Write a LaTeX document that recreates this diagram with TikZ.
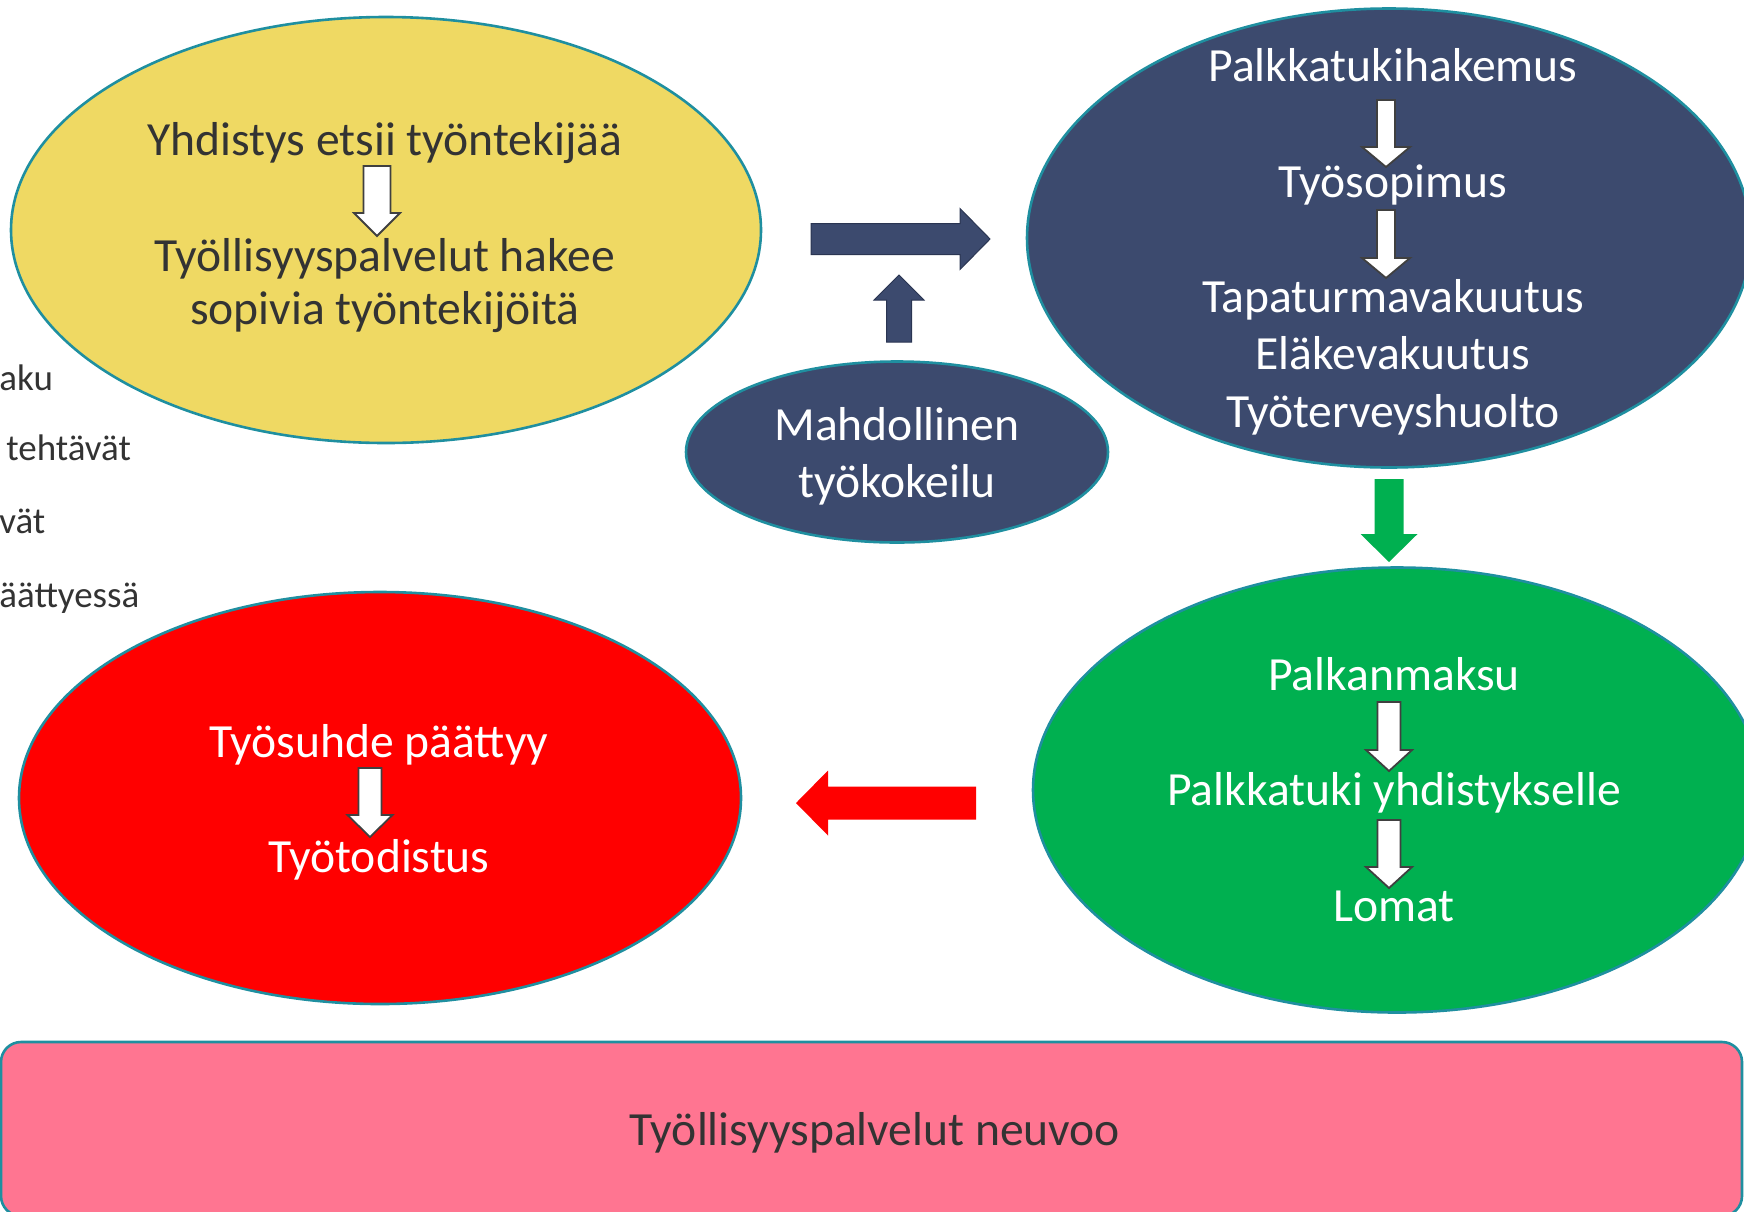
\documentclass[tikz,border=0pt]{standalone}
\usepackage{fontspec}
\setmainfont{Carlito}
\usetikzlibrary{shapes.geometric,calc}
\definecolor{bubbleyellow}{HTML}{EFD963}
\definecolor{navy}{HTML}{3C4A6E}
\definecolor{navyedge}{HTML}{2A3552}
\definecolor{leafgreen}{HTML}{00B050}
\definecolor{alarmred}{HTML}{FF0000}
\definecolor{advicepink}{HTML}{FF7591}
\definecolor{edgeteal}{HTML}{1F8FA0}
\definecolor{inkgray}{HTML}{333333}
\definecolor{arrowedge}{HTML}{404040}
% block arrow: [style]{tail}{tip}{shaft half}{head half}{head length}
\newcommand{\blockarrow}[6][]{%
  \coordinate (hb) at ($(#3)!#6!(#2)$);
  \path[#1] ($(#2)!#4!90:(#3)$) -- ($(hb)!#4!-90:(#2)$) -- ($(hb)!#5!-90:(#2)$)
    -- (#3) -- ($(hb)!#5!90:(#2)$) -- ($(hb)!#4!90:(#2)$) -- ($(#2)!#4!-90:(#3)$) -- cycle;}

\begin{document}
\begin{tikzpicture}[x=0.5pt,y=-0.5pt,
   bubble/.style={ellipse, draw=edgeteal, line width=1.3pt, inner sep=0pt},
   say/.style={font=\fontsize{23.8}{28}\selectfont, anchor=base, inner sep=0pt},
   aside/.style={font=\fontsize{18.5}{22}\selectfont, anchor=base west, inner sep=0pt, text=inkgray},
   whitearr/.style={fill=white, draw=arrowedge, line width=0.9pt, line join=miter},
   navyarr/.style={fill=navy, draw=navyedge, line width=0.5pt, line join=miter}]
   \useasboundingbox (0,0) rectangle (1744,1211);
   \clip (0,0) rectangle (1744,1211);

   % bubbles
   \node[bubble, fill=bubbleyellow, minimum width=375pt, minimum height=213pt] (search) at (386,230) {};
   \node[bubble, fill=navy, minimum width=362pt, minimum height=229.5pt] (contract) at (1389,238) {};
   \node[bubble, fill=navy, minimum width=211pt, minimum height=90.5pt] (trial) at (897,452) {};
   \node[bubble, fill=leafgreen, minimum width=364pt, minimum height=222.5pt] (pay) at (1397,790) {};
   \node[bubble, fill=alarmred, minimum width=361pt, minimum height=206pt] (ending) at (380,798) {};
   \node[rectangle, rounded corners=10pt, draw=edgeteal, line width=1.3pt, fill=advicepink,
         minimum width=870.5pt, minimum height=87pt, inner sep=0pt] (advice) at (871.5,1129) {};

   % cut-off list on the left
   \node[aside] (l1) at ( -1,390) {aku};
   \node[aside] (l2) at (  6,460) {tehtävät};
   \node[aside] (l3) at ( -1,533) {vät};
   \node[aside] (l4) at ( -1,607) {äättyessä};

   % texts
   \node[say, text=inkgray] (y1) at (385,155) {Yhdistys etsii työntekijää};
   \node[say, text=inkgray] (y2) at (385,271) {Työllisyyspalvelut hakee};
   \node[say, text=inkgray] (y3) at (385,324) {sopivia työntekijöitä};
   \node[say, text=white] (c1) at (1393, 81) {Palkkatukihakemus};
   \node[say, text=white] (c2) at (1393,197) {Työsopimus};
   \node[say, text=white] (c3) at (1393,312) {Tapaturmavakuutus};
   \node[say, text=white] (c4) at (1393,369) {Eläkevakuutus};
   \node[say, text=white] (c5) at (1393,427) {Työterveyshuolto};
   \node[say, text=white] (t1) at (897,440) {Mahdollinen};
   \node[say, text=white] (t2) at (897,497) {työkokeilu};
   \node[say, text=white] (p1) at (1394,690) {Palkanmaksu};
   \node[say, text=white] (p2) at (1394,805) {Palkkatuki yhdistykselle};
   \node[say, text=white] (p3) at (1394,921) {Lomat};
   \node[say, text=white] (e1) at (379,757) {Työsuhde päättyy};
   \node[say, text=white] (e2) at (379,872) {Työtodistus};
   \node[say, text=inkgray] (a1) at (875,1145) {Työllisyyspalvelut neuvoo};

   % arrow ends
   \coordinate (ys) at (377,166);  \coordinate (yt) at (377,236);
   \coordinate (cs) at (1386,100); \coordinate (ct) at (1386,167);
   \coordinate (ds) at (1386,210); \coordinate (dt) at (1386,278);
   \coordinate (ps) at (1389,702); \coordinate (pt) at (1389,771);
   \coordinate (qs) at (1389,820); \coordinate (qt) at (1389,888);
   \coordinate (es) at (370,768);  \coordinate (et) at (370,837);
   \coordinate (rs) at (811,239);  \coordinate (rt) at (990,239);
   \coordinate (us) at (899,342);  \coordinate (ut) at (899,275);
   \coordinate (gs) at (1389,479); \coordinate (gt) at (1389,562);
   \coordinate (ls) at (976,803);  \coordinate (lt) at (796,803);

   \blockarrow[whitearr]{ys}{yt}{6.75pt}{11.5pt}{11.5pt}
   \blockarrow[whitearr]{cs}{ct}{4.5pt}{12pt}{10pt}
   \blockarrow[whitearr]{ds}{dt}{4.5pt}{12pt}{10pt}
   \blockarrow[whitearr]{ps}{pt}{5.75pt}{11.5pt}{10.5pt}
   \blockarrow[whitearr]{qs}{qt}{5.75pt}{11.5pt}{10.5pt}
   \blockarrow[whitearr]{es}{et}{5.75pt}{11.25pt}{11pt}
   \blockarrow[navyarr]{rs}{rt}{7.75pt}{15.25pt}{15pt}
   \blockarrow[navyarr]{us}{ut}{6.25pt}{12.5pt}{12.5pt}
   \blockarrow[fill=leafgreen]{gs}{gt}{7.25pt}{14.25pt}{14pt}
   \blockarrow[fill=alarmred]{ls}{lt}{8.25pt}{16.25pt}{16pt}
\end{tikzpicture}
\end{document}
